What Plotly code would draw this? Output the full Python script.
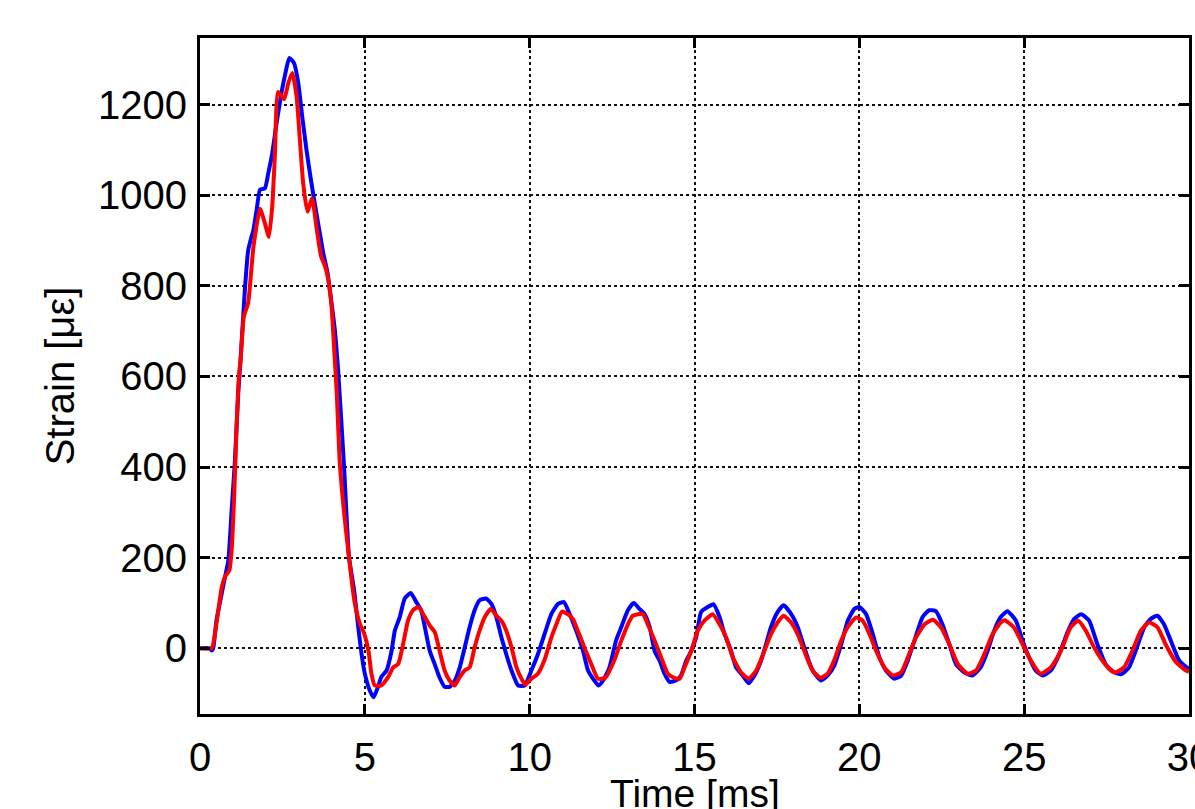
import plotly.graph_objects as go

# Time [ms] and strain [µε]
blue_t = [0, 0.30, 0.35, 0.40, 0.50, 0.66, 0.76, 0.86, 0.96, 1.06, 1.16, 1.23, 1.36, 1.46, 1.55,
          1.62, 1.72, 1.82, 1.97, 2.07, 2.19, 2.32, 2.45, 2.57, 2.71, 2.85, 2.98, 3.10, 3.23,
          3.35, 3.48, 3.60, 3.74, 3.87, 3.99, 4.09, 4.19, 4.37, 4.52, 4.68, 4.80, 4.90, 5.00,
          5.15, 5.27, 5.40, 5.50, 5.66, 5.81, 5.91, 6.06, 6.21, 6.39, 6.56, 6.71, 6.82, 6.97,
          7.12, 7.27, 7.42, 7.57, 7.73, 7.88, 8.03, 8.18, 8.33, 8.48, 8.68, 8.84, 8.99, 9.14,
          9.29, 9.45, 9.65, 9.85, 10.05, 10.25, 10.45, 10.66, 10.86, 11.04, 11.21, 11.41, 11.62,
          11.77, 11.92, 12.09, 12.22, 12.42, 12.62, 12.78, 12.98, 13.16, 13.33, 13.48, 13.64,
          13.79, 13.94, 14.09, 14.24, 14.44, 14.59, 14.75, 14.90, 15.05, 15.20, 15.40, 15.58,
          15.76, 15.91, 16.11, 16.26, 16.46, 16.64, 16.82, 17.02, 17.17, 17.32, 17.52, 17.70,
          17.93, 18.13, 18.33, 18.54, 18.69, 18.84, 19.04, 19.24, 19.45, 19.65, 19.85, 20.00,
          20.20, 20.41, 20.61, 20.81, 21.06, 21.27, 21.47, 21.67, 21.92, 22.12, 22.32, 22.52,
          22.73, 22.93, 23.18, 23.43, 23.68, 23.89, 24.09, 24.29, 24.49, 24.75, 24.95, 25.15,
          25.35, 25.56, 25.81, 26.06, 26.31, 26.52, 26.73, 26.97, 27.22, 27.47, 27.73, 27.95,
          28.18, 28.38, 28.64, 28.84, 29.04, 29.24, 29.49, 29.70, 29.93, 30.00]
blue_v = [0, 0, -5, 0, 62, 121, 158, 194, 305, 415, 563, 636, 790, 878, 905,
          923, 968, 1012, 1015, 1048, 1092, 1158, 1217, 1262, 1303, 1292, 1248, 1174, 1100,
          1041, 982, 931, 872, 828, 762, 703, 614, 400, 202, 125, 47, -12, -56,
          -93, -108, -85, -63, -49, -6, 39, 69, 110, 122, 102, 84, 47, -6,
          -35, -65, -85, -85, -71, -42, 2, 47, 84, 106, 110, 98, 69, 25,
          -13, -49, -82, -82, -49, -13, 31, 76, 98, 102, 76, 39, -6,
          -49, -67, -82, -72, -42, 17, 47, 84, 100, 87, 76, 47,
          -6, -27, -56, -74, -71, -60, -27, -6, 24, 80, 91, 97,
          69, 32, -6, -42, -60, -77, -60, -27, 9, 47, 80, 95,
          76, 47, 2, -42, -60, -71, -60, -38, 9, 61, 87, 91,
          76, 31, -20, -49, -67, -60, -27, 17, 69, 84, 82, 53,
          9, -35, -53, -60, -42, -6, 39, 69, 82, 61, 17, -20,
          -49, -60, -49, -14, 35, 65, 75, 61, 9, -35, -53, -57,
          -42, -6, 46, 65, 72, 53, 9, -27, -42, -45]

red_t = [0, 0.35, 0.50, 0.66, 0.76, 0.89, 0.96, 1.04, 1.11, 1.18, 1.23, 1.33, 1.46, 1.62,
         1.82, 1.97, 2.09, 2.19, 2.27, 2.37, 2.55, 2.68, 2.80, 2.93, 3.03, 3.13, 3.26, 3.40,
         3.53, 3.67, 3.79, 3.89, 3.99, 4.07, 4.15, 4.24, 4.37, 4.52, 4.68, 4.85, 4.95, 5.05,
         5.12, 5.20, 5.30, 5.50, 5.71, 5.86, 6.01, 6.16, 6.31, 6.46, 6.63, 6.82, 6.97, 7.12,
         7.27, 7.42, 7.57, 7.73, 7.88, 8.03, 8.18, 8.33, 8.48, 8.64, 8.82, 8.99, 9.14, 9.29,
         9.45, 9.60, 9.75, 9.87, 10.05, 10.25, 10.45, 10.66, 10.81, 10.98, 11.16, 11.31, 11.46,
         11.66, 11.87, 12.07, 12.30, 12.57, 12.78, 12.98, 13.13, 13.43, 13.58, 13.79, 13.99,
         14.19, 14.39, 14.55, 14.70, 14.90, 15.10, 15.30, 15.55, 15.76, 15.96, 16.16, 16.41,
         16.64, 16.87, 17.12, 17.32, 17.52, 17.70, 17.93, 18.13, 18.33, 18.58, 18.82, 19.04,
         19.24, 19.45, 19.65, 19.90, 20.10, 20.31, 20.51, 20.76, 21.01, 21.27, 21.47, 21.72,
         21.98, 22.23, 22.48, 22.73, 22.99, 23.29, 23.54, 23.79, 24.04, 24.29, 24.41, 24.69,
         24.95, 25.20, 25.50, 25.81, 26.11, 26.41, 26.64, 26.87, 27.12, 27.37, 27.63, 27.78,
         28.03, 28.28, 28.54, 28.79, 29.04, 29.29, 29.60, 29.91, 30.00]
red_v = [0, 0, 55, 135, 158, 172, 217, 342, 489, 600, 636, 732, 762, 885,
         970, 938, 908, 975, 1085, 1228, 1212, 1248, 1270, 1218, 1122, 1026, 964, 993,
         931, 866, 844, 814, 755, 660, 560, 410, 300, 200, 106, 54, 38, 15,
         -10, -56, -82, -82, -63, -42, -35, 9, 61, 84, 91, 69, 50, 36,
         -6, -49, -71, -82, -63, -49, -42, 2, 39, 69, 87, 72, 61, 39,
         2, -42, -67, -80, -67, -56, -26, 24, 53, 81, 75, 65, 39,
         2, -35, -67, -65, -26, 17, 53, 72, 76, 53, 17, -20,
         -56, -65, -67, -42, -6, 39, 61, 75, 53, 24, -20, -53,
         -67, -49, -6, 31, 57, 72, 57, 31, -6, -49, -65, -56,
         -26, 17, 47, 68, 61, 31, -6, -42, -60, -53, -20, 24,
         53, 63, 46, 9, -35, -56, -49, -13, 31, 57, 62, 46,
         9, -27, -56, -42, -6, 46, 61, 39, 2, -27, -49, -53,
         -42, -6, 39, 57, 47, 9, -30, -49, -52]

x_ticks = [0, 5, 10, 15, 20, 25, 30]
y_ticks = [0, 200, 400, 600, 800, 1000, 1200]
x_label = "Time [ms]"
y_label = "Strain [με]"

FONT = "Liberation Sans, Arial, Helvetica, sans-serif"

fig = go.Figure()
fig.add_trace(go.Scatter(x=blue_t, y=blue_v, mode="lines",
                         line=dict(color="#0000ff", width=4, shape="spline", smoothing=0.5),
                         showlegend=False, cliponaxis=True))
fig.add_trace(go.Scatter(x=red_t, y=red_v, mode="lines",
                         line=dict(color="#ff0000", width=4, shape="spline", smoothing=0.5),
                         showlegend=False, cliponaxis=True))

axis_common = dict(
    showline=True, linecolor="black", linewidth=3, mirror="ticks",
    ticks="inside", ticklen=10, tickwidth=3, tickcolor="black",
    showgrid=True, gridcolor="#111111", gridwidth=1.5, griddash="dot",
    zeroline=False, ticklabeloverflow="allow", automargin=False,
    tickfont=dict(family=FONT, size=40, color="black"),
)

fig.update_xaxes(range=[0, 30], tickvals=x_ticks, ticklabelstandoff=6, **axis_common)
fig.update_yaxes(range=[-145, 1347], tickvals=y_ticks, ticklabelstandoff=2,
                 title=dict(text=y_label, font=dict(family=FONT, size=40, color="black"), standoff=12),
                 **axis_common)

# x-axis title placed as in the reference (partly below the page edge)
fig.add_annotation(text=x_label, xref="paper", yref="paper", x=0.5, y=-0.083,
                   xanchor="center", yanchor="top", showarrow=False,
                   font=dict(family=FONT, size=39, color="black"))

fig.update_layout(
    width=1195, height=809,
    margin=dict(l=200, r=6, t=38, b=95, pad=0),
    paper_bgcolor="white", plot_bgcolor="white",
    font=dict(family=FONT, color="black"),
)

fig.write_html("out.html", config={"displayModeBar": False})
